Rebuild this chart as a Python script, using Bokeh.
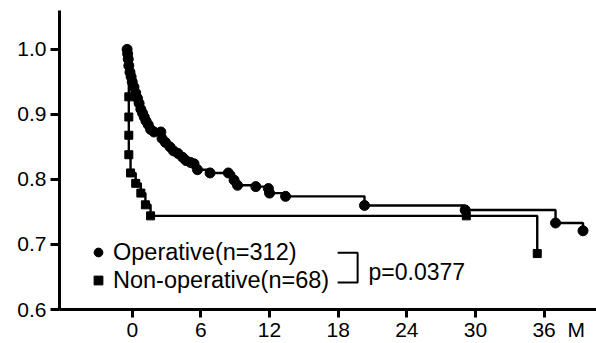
from bokeh.plotting import figure
from bokeh.models import Range1d, Legend, LegendItem, Label, FixedTicker, PrintfTickFormatter
from bokeh.embed import file_html
from bokeh.resources import INLINE

# ---- data ----
months_ticks = [0, 6, 12, 18, 24, 30, 36]
surv_ticks = [0.6, 0.7, 0.8, 0.9, 1.0]

op_months = [-0.45, -0.4, -0.35, -0.3, -0.2, -0.1, 0.0, 0.15, 0.3, 0.45, 0.6, 0.75, 0.9,
             1.05, 1.2, 1.4, 1.6, 1.9, 2.5, 2.6, 2.9, 3.3, 3.6, 4.0, 4.4, 4.7, 5.1, 5.4,
             5.7, 6.8, 8.4, 8.9, 9.2, 10.8, 11.9, 12.0, 13.4, 20.3, 29.1, 37.0, 39.4]
op_surv = [1.0, 0.993, 0.985, 0.975, 0.965, 0.958, 0.950, 0.942, 0.933, 0.925, 0.917, 0.908, 0.902,
           0.896, 0.890, 0.884, 0.877, 0.873, 0.873, 0.863, 0.857, 0.850, 0.844, 0.840, 0.834, 0.829,
           0.826, 0.824, 0.815, 0.810, 0.810, 0.799, 0.791, 0.789, 0.786, 0.779, 0.774, 0.760, 0.753,
           0.733, 0.721]

nonop_months = [-0.3, -0.3, -0.3, -0.3, -0.3, -0.15, 0.3, 0.75, 1.15, 1.6, 29.2, 35.4]
nonop_surv = [1.0, 0.927, 0.896, 0.868, 0.838, 0.810, 0.794, 0.779, 0.761, 0.744, 0.744, 0.686]

op_label = "Operative(n=312)"
nonop_label = "Non-operative(n=68)"
p_text = "p=0.0377"
x_unit = "M"

FONT = "Liberation Sans"
NB = "\u00a0"

p = figure(width=596, height=343, output_backend="svg", toolbar_location=None,
           x_range=Range1d(-6.36, 40.58), y_range=Range1d(0.6, 1.0598),
           min_border_left=59, min_border_right=0, min_border_top=10, min_border_bottom=33)
p.background_fill_color = "white"
p.border_fill_color = "white"
p.outline_line_color = None
p.xgrid.visible = False
p.ygrid.visible = False

# curves
p.step(op_months, op_surv, mode="after", line_color="black", line_width=2.4)
r_op = p.scatter(op_months, op_surv, marker="circle", size=10, fill_color="black", line_color="black")
p.step(nonop_months, nonop_surv, mode="after", line_color="black", line_width=2.4)
r_non = p.scatter(nonop_months[1:], nonop_surv[1:], marker="square", size=8, fill_color="black", line_color="black")

# axes
for ax in (p.xaxis[0], p.yaxis[0]):
    ax.axis_line_width = 3
    ax.axis_line_color = "black"
    ax.major_tick_line_width = 3
    ax.major_tick_line_color = "black"
    ax.major_tick_in = 0
    ax.minor_tick_line_color = None
    ax.major_label_text_font = FONT
    ax.major_label_text_font_size = "21px"
    ax.major_label_text_color = "black"

p.xaxis.ticker = FixedTicker(ticks=months_ticks)
p.xaxis.major_tick_out = 8
p.xaxis.major_label_standoff = 0
# the unit "M" sits right after the last tick label
p.xaxis.major_label_overrides = {36: NB * 5 + "36" + NB * 2 + x_unit}
p.yaxis.ticker = FixedTicker(ticks=surv_ticks)
p.yaxis.formatter = PrintfTickFormatter(format="%.1f")
p.yaxis.major_tick_out = 9
p.yaxis.major_label_standoff = 4

# legend
legend = Legend(items=[LegendItem(label=op_label, renderers=[r_op]),
                       LegendItem(label=nonop_label, renderers=[r_non])],
                location=(28, 15), padding=0, margin=0, spacing=0,
                glyph_width=22, glyph_height=28, label_height=28, label_standoff=4,
                label_text_font=FONT, label_text_font_size="23.5px", label_text_color="black",
                border_line_alpha=0, background_fill_alpha=0)
p.add_layout(legend)

# bracket and p-value
p.line([17.95, 19.7, 19.7, 17.95], [0.6874, 0.6874, 0.6414, 0.6414], line_color="black", line_width=2)
p.add_layout(Label(x=20.65, y=0.658, text=p_text, text_font=FONT, text_font_size="23px",
                   text_baseline="middle", text_align="left", text_color="black"))

open("out.html", "w").write(file_html(p, INLINE))
